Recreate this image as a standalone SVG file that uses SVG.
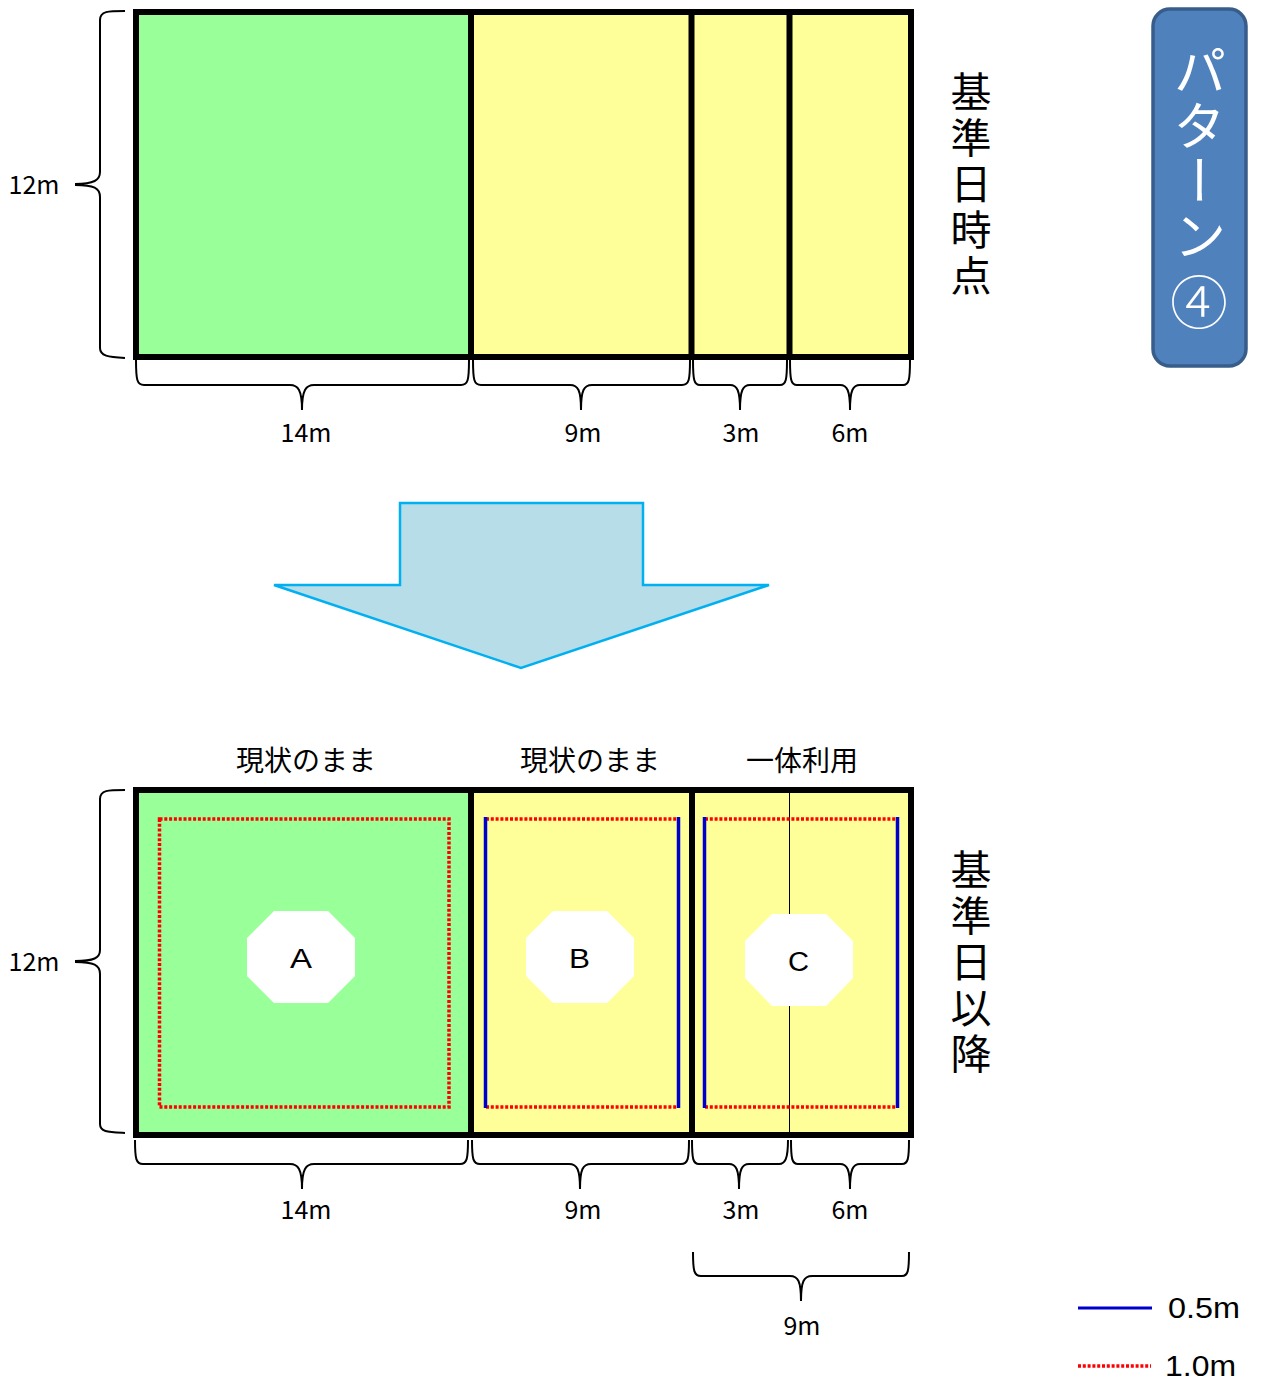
<svg xmlns="http://www.w3.org/2000/svg" width="1263" height="1381" viewBox="0 0 1263 1381">
<style>
text{font-family:"Noto Sans CJK JP","Liberation Sans",sans-serif;fill:#000}
.g{fill:#9f9}.y{fill:#ff9}
.b{fill:none;stroke:#000;stroke-width:6}
.br{fill:none;stroke:#000;stroke-width:2}
.blue{stroke:#0000cc;stroke-width:3.500;fill:none}
.red{stroke:#f00;stroke-width:3.500;stroke-dasharray:3 1.800;fill:none}
.dim{font-size:25px;text-anchor:middle}
.lab{font-size:28px;text-anchor:middle}
.v{font-size:41px;writing-mode:vertical-rl;letter-spacing:5px}
.oct{fill:#fff}
.ol{font-family:"Liberation Sans",sans-serif;font-size:27px}
.leg{font-family:"Liberation Sans",sans-serif;font-size:29px}
</style>
<g id="before">
<rect class="g" x="136" y="12" width="335" height="345"/>
<rect class="y" x="471" y="12" width="440" height="345"/>
<path class="b" d="M136 12H911V357H136ZM471 12V357M691.500 12V357M789.500 12V357"/>
</g>
<g id="after">
<rect class="g" x="136" y="790" width="335" height="345"/>
<rect class="y" x="471" y="790" width="440" height="345"/>
<path d="M789.500 790V1135" stroke="#000" stroke-width="1" fill="none"/>
<path class="b" d="M136 790H911V1135H136ZM471 790V1135M692 790V1135"/>
<path class="red" d="M159.500 819H449V1107H159.500Z"/>
<path class="red" d="M486 819H678M486 1107H678M705 819H897M705 1107H897"/>
<path class="blue" d="M485.500 817V1108M678.500 817V1108M704.500 817V1108M897.500 817V1108"/>
</g>
<g id="node-a"><polygon class="oct" points="274,911 328,911 355,938 355,976 328,1003 274,1003 247,976 247,938"/><text class="ol" x="290" y="968" textLength="22" lengthAdjust="spacingAndGlyphs">A</text></g>
<g id="node-b"><polygon class="oct" points="553,911 607,911 634,938 634,976 607,1003 553,1003 526,976 526,938"/><text class="ol" x="569" y="968" textLength="21" lengthAdjust="spacingAndGlyphs">B</text></g>
<g id="node-c"><polygon class="oct" points="772,914 826,914 853,941 853,978 826,1006 772,1006 745,978 745,941"/><text class="ol" x="788" y="971" textLength="21" lengthAdjust="spacingAndGlyphs">C</text></g>
<g id="arrow"><polygon points="400,503 643,503 643,585 769,585 521,668 274,585 400,585" fill="#b7dde8" stroke="#00b0f0" stroke-width="2.500"/></g>
<g id="badge"><rect x="1153" y="9" width="93" height="357" rx="17" fill="#4f81bd" stroke="#385d8a" stroke-width="3.500"/>
<text x="1200" y="44" style="font-size:53px;writing-mode:vertical-rl;fill:#fff;font-weight:400;letter-spacing:2px">パターン</text>
<text x="1199" y="324" style="font-size:58px;text-anchor:middle;fill:#fff;font-weight:300">④</text></g>
<g id="connectors">
<path class="br" d="M125 11C108 11 100 11 100 20V172C100 180 94 184 75 184M75 185C94 185 100 188 100 197V348C100 356 108 357 125 358"/>
<path class="br" d="M125 790C108 790 100 790 100 799V950C100 958 94 961 75 961M75 962C94 962 100 965 100 974V1124C100 1132 108 1132 125 1133"/>
<path class="br" d="M136 360C136 380 137 385 144 385H290C298 385 302 390 302 410C302 390 306 385 314 385H461C468 385 469 380 469 360"/>
<path class="br" d="M473 360C473 380 474 385 481 385H570C578 385 581 390 581 410C581 390 584 385 592 385H682C689 385 690 380 690 360"/>
<path class="br" d="M693 360C693 380 694 385 700 385H730C737 385 740 390 740 410C740 390 743 385 750 385H780C786 385 787 380 787 360"/>
<path class="br" d="M790 360C790 380 791 385 797 385H840C847 385 850 390 850 410C850 390 853 385 860 385H903C909 385 910 380 910 360"/>
<path class="br" d="M135 1140C135 1159 136 1164 143 1164H290C298 1164 302 1169 302 1189C302 1169 306 1164 314 1164H460C467 1164 468 1159 468 1140"/>
<path class="br" d="M472 1140C472 1159 473 1164 480 1164H569C577 1164 580 1169 580 1189C580 1169 583 1164 591 1164H681C688 1164 689 1159 689 1140"/>
<path class="br" d="M692 1140C692 1159 693 1164 699 1164H729C736 1164 739 1169 739 1189C739 1169 742 1164 749 1164H779C785 1164 788 1159 788 1140"/>
<path class="br" d="M791 1140C791 1159 792 1164 798 1164H840C847 1164 850 1169 850 1189C850 1169 853 1164 860 1164H902C908 1164 909 1159 909 1140"/>
<path class="br" d="M693 1252C693 1271 694 1276 701 1276H790C798 1276 801 1281 801 1301C801 1281 804 1276 812 1276H902C908 1276 909 1271 909 1252"/>
</g>
<g id="labels">
<text class="dim" x="34" y="194">12m</text><text class="dim" x="34" y="971">12m</text>
<text class="dim" x="306" y="442">14m</text><text class="dim" x="583" y="442">9m</text><text class="dim" x="741" y="442">3m</text><text class="dim" x="850" y="442">6m</text>
<text class="dim" x="306" y="1219">14m</text><text class="dim" x="583" y="1219">9m</text><text class="dim" x="741" y="1219">3m</text><text class="dim" x="850" y="1219">6m</text>
<text class="dim" x="802" y="1335">9m</text>
<text class="lab" x="306" y="771">現状のまま</text><text class="lab" x="590" y="771">現状のまま</text><text class="lab" x="802" y="771">一体利用</text>
<text class="v" x="971" y="71">基準日時点</text>
<text class="v" x="971" y="849">基準日以降</text>
</g>
<g id="legend">
<path d="M1078 1308H1152" stroke="#0000cc" stroke-width="3"/>
<path class="red" d="M1078 1366H1151"/>
<text class="leg" x="1168" y="1318" textLength="72" lengthAdjust="spacingAndGlyphs">0.5m</text>
<text class="leg" x="1165" y="1376" textLength="71" lengthAdjust="spacingAndGlyphs">1.0m</text>
</g>
</svg>
